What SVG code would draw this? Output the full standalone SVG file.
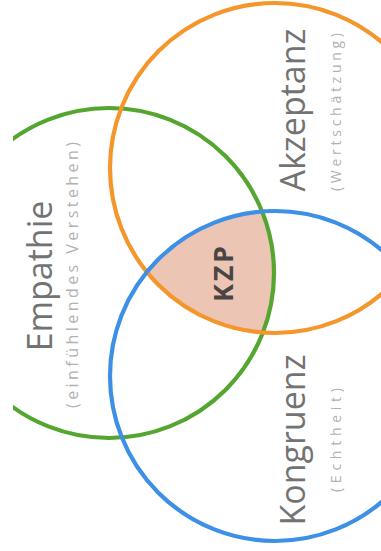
<svg xmlns="http://www.w3.org/2000/svg" width="381" height="551" viewBox="0 0 381 551">
  <style>
    .ring { fill: none; stroke-width: 4.2; }
    .main { font-family: "Open Sans", "Liberation Sans", sans-serif; font-size: 34px; fill: #737373; text-anchor: middle; }
    .sub { font-family: "Open Sans", "Liberation Sans", sans-serif; fill: #b2b2b2; text-anchor: middle; }
    .core { font-family: "Open Sans", "Liberation Sans", sans-serif; font-weight: bold; font-size: 27px; fill: #4a4542; text-anchor: middle; }
  </style>
  <defs>
    <clipPath id="crop"><rect x="13" y="0" width="368" height="551"/></clipPath>
  </defs>
  <rect width="381" height="551" fill="#ffffff"/>
  <g id="kzp">
    <path d="M 146.9 272 A 165 165 0 0 1 262.5 211.5 A 165 165 0 0 1 262.5 332.5 A 165 165 0 0 1 146.9 272 Z" fill="#ecc5b5"/>
  </g>
  <g id="empathie">
    <circle class="ring" cx="109" cy="273" r="165" stroke="#55a630" clip-path="url(#crop)"/>
    <text class="main" transform="translate(52,276) rotate(-90)">Empathie</text>
    <text class="sub" font-size="16" textLength="266" lengthAdjust="spacing" transform="translate(78,275) rotate(-90)">(einfühlendes Verstehen)</text>
  </g>
  <g id="akzeptanz">
    <circle class="ring" cx="275" cy="168" r="165" stroke="#f4962b"/>
    <text class="main" transform="translate(305,110) rotate(-90)">Akzeptanz</text>
    <text class="sub" font-size="14" textLength="158" lengthAdjust="spacing" transform="translate(341,112) rotate(-90)">(Wertschätzung)</text>
  </g>
  <g id="kongruenz">
    <circle class="ring" cx="275" cy="376" r="165" stroke="#3d90e6"/>
    <text class="main" transform="translate(305,440) rotate(-90)">Kongruenz</text>
    <text class="sub" font-size="14" textLength="104" lengthAdjust="spacing" transform="translate(341,440) rotate(-90)">(Echtheit)</text>
  </g>
  <g id="kzp-label">
    <text class="core" textLength="56" lengthAdjust="spacing" transform="translate(233,274) rotate(-90)">KZP</text>
  </g>
  <g id="connectors"></g>
</svg>
